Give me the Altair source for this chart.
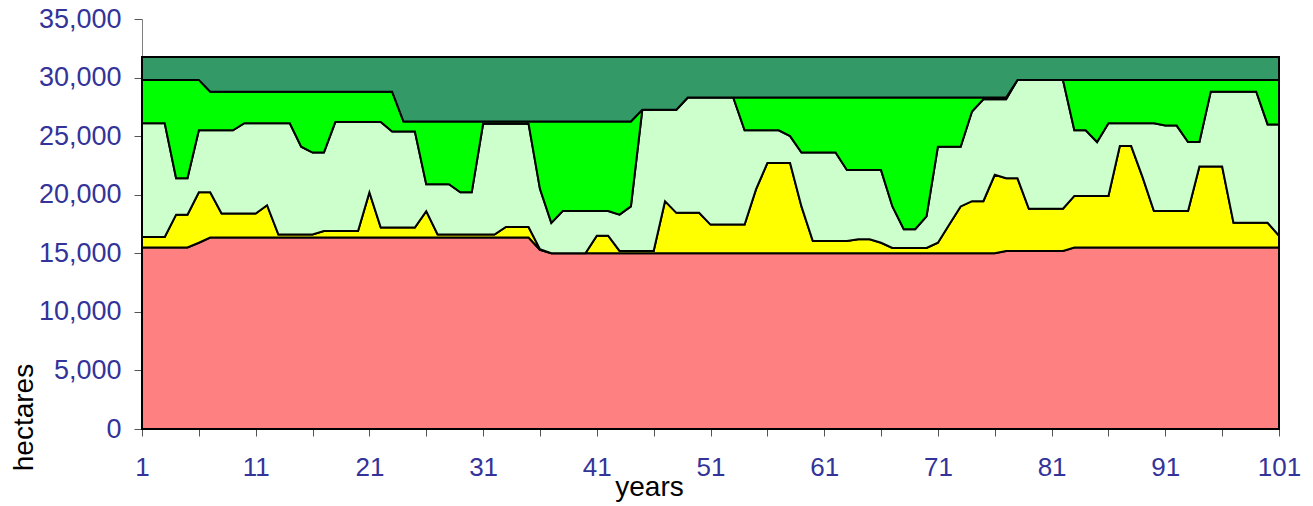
import altair as alt
import pandas as pd

years = list(range(1, 102))

series_names = ["red", "yellow", "light green", "bright green", "dark green"]
series_colors = ["#FF8080", "#FFFF00", "#CCFFCC", "#00FF00", "#339966"]

red = [
    15500, 15500, 15500, 15500, 15500, 15900, 16350, 16350, 16350, 16350,
    16350, 16350, 16350, 16350, 16350, 16350, 16350, 16350, 16350, 16350,
    16350, 16350, 16350, 16350, 16350, 16350, 16350, 16350, 16350, 16350,
    16350, 16350, 16350, 16350, 16350, 15300, 15000, 15000, 15000, 15000,
    15000, 15000, 15000, 15000, 15000, 15000, 15000, 15000, 15000, 15000,
    15000, 15000, 15000, 15000, 15000, 15000, 15000, 15000, 15000, 15000,
    15000, 15000, 15000, 15000, 15000, 15000, 15000, 15000, 15000, 15000,
    15000, 15000, 15000, 15000, 15000, 15000, 15200, 15200, 15200, 15200,
    15200, 15200, 15500, 15500, 15500, 15500, 15500, 15500, 15500, 15500,
    15500, 15500, 15500, 15500, 15500, 15500, 15500, 15500, 15500, 15500,
    15500,
]
yellow = [
    900, 900, 900, 2800, 2800, 4300, 3850, 2050, 2050, 2050,
    2050, 2750, 250, 250, 250, 250, 550, 550, 550, 550,
    3850, 850, 850, 850, 850, 2250, 250, 250, 250, 250,
    250, 250, 900, 900, 900, 50, 0, 0, 0, 0,
    1500, 1500, 200, 200, 200, 200, 4450, 3450, 3450, 3450,
    2450, 2450, 2450, 2450, 5450, 7700, 7700, 7700, 4000, 1050,
    1050, 1050, 1050, 1200, 1200, 900, 450, 450, 450, 450,
    900, 2450, 4000, 4450, 4450, 6700, 6200, 6200, 3600, 3600,
    3600, 3600, 4400, 4400, 4400, 4400, 8650, 8650, 6000, 3100,
    3100, 3100, 3100, 6900, 6900, 6900, 2100, 2100, 2100, 2100,
    1000,
]
light_green = [
    9700, 9700, 9700, 3100, 3100, 5300, 5300, 7100, 7100, 7700,
    7700, 7000, 9500, 9500, 7500, 7000, 6700, 9300, 9300, 9300,
    6000, 9000, 8200, 8200, 8200, 2300, 4300, 4300, 3600, 3600,
    9450, 9450, 8800, 8800, 8800, 5150, 2600, 3600, 3600, 3600,
    2100, 2100, 3100, 3800, 12050, 12050, 7800, 8800, 9850, 9850,
    10850, 10850, 10850, 8050, 5050, 2800, 2800, 2300, 4600, 7550,
    7550, 7550, 6050, 5900, 5900, 6200, 3550, 1600, 1600, 2700,
    8200, 6650, 5100, 7650, 8700, 6450, 6750, 8400, 11000, 11000,
    11000, 11000, 5600, 5600, 4600, 6200, 1950, 1950, 4600, 7500,
    7300, 7300, 5900, 2100, 6400, 6400, 11200, 11200, 11200, 8400,
    9500,
]
bright_green = [
    3700, 3700, 3700, 8400, 8400, 4300, 3300, 3300, 3300, 2700,
    2700, 2700, 2700, 2700, 4700, 5200, 5200, 2600, 2600, 2600,
    2600, 2600, 3400, 850, 850, 5350, 5350, 5350, 6050, 6050,
    200, 200, 200, 200, 200, 5750, 8650, 7650, 7650, 7650,
    7650, 7650, 7950, 7250, 0, 0, 0, 0, 0, 0,
    0, 0, 0, 2800, 2800, 2800, 2800, 3300, 4700, 4700,
    4700, 4700, 6200, 6200, 6200, 6200, 9300, 11250, 11250, 10150,
    4200, 4200, 4200, 1200, 150, 150, 150, 0, 0, 0,
    0, 0, 4300, 4300, 5300, 3700, 3700, 3700, 3700, 3700,
    3900, 3900, 5300, 5300, 1000, 1000, 1000, 1000, 1000, 3800,
    3800,
]
dark_green = [
    1950, 1950, 1950, 1950, 1950, 1950, 2950, 2950, 2950, 2950,
    2950, 2950, 2950, 2950, 2950, 2950, 2950, 2950, 2950, 2950,
    2950, 2950, 2950, 5500, 5500, 5500, 5500, 5500, 5500, 5500,
    5500, 5500, 5500, 5500, 5500, 5500, 5500, 5500, 5500, 5500,
    5500, 5500, 5500, 5500, 4500, 4500, 4500, 4500, 3450, 3450,
    3450, 3450, 3450, 3450, 3450, 3450, 3450, 3450, 3450, 3450,
    3450, 3450, 3450, 3450, 3450, 3450, 3450, 3450, 3450, 3450,
    3450, 3450, 3450, 3450, 3450, 3450, 3450, 1950, 1950, 1950,
    1950, 1950, 1950, 1950, 1950, 1950, 1950, 1950, 1950, 1950,
    1950, 1950, 1950, 1950, 1950, 1950, 1950, 1950, 1950, 1950,
    1950,
]

x_ticks = list(range(1, 102, 5))
y_ticks = list(range(0, 35001, 5000))

all_series = [red, yellow, light_green, bright_green, dark_green]
frames = []
for i, (name, vals) in enumerate(zip(series_names, all_series)):
    frames.append(pd.DataFrame({"year": years, "value": vals, "series": name, "order": i}))
df = pd.concat(frames, ignore_index=True)

FONT = "Liberation Sans"
LABEL_COLOR = "#333399"

chart = alt.Chart(df).mark_area(
    stroke="black", strokeWidth=2, interpolate="linear", opacity=1
).encode(
    x=alt.X(
        "year:Q",
        scale=alt.Scale(domain=[1, 101], nice=False, zero=False),
        axis=alt.Axis(
            values=x_ticks,
            labelExpr="datum.value % 10 == 1 ? datum.label : ''",
            labelFlush=False,
            labelOverlap=False,
            grid=False,
            tickSize=7,
            tickColor="#555555",
            domainColor="#808080",
            labelColor=LABEL_COLOR,
            labelFont=FONT,
            labelFontSize=26,
            labelPadding=18,
            title="years",
            titleFont=FONT,
            titleFontSize=28,
            titleFontWeight="normal",
            titleColor="black",
            titleX=507,
            titleY=66,
            titleAlign="center",
            titleBaseline="alphabetic",
        ),
    ),
    y=alt.Y(
        "value:Q",
        stack="zero",
        scale=alt.Scale(domain=[0, 35000], nice=False),
        axis=alt.Axis(
            values=y_ticks,
            format=",.0f",
            grid=False,
            tickSize=8,
            tickColor="#555555",
            domainColor="#808080",
            labelColor=LABEL_COLOR,
            labelFont=FONT,
            labelFontSize=27,
            labelPadding=13,
            title="hectares",
            titleFont=FONT,
            titleFontSize=28,
            titleFontWeight="normal",
            titleColor="black",
            titleAngle=270,
            titleX=-110,
            titleY=398,
            titleAlign="center",
            titleBaseline="alphabetic",
        ),
    ),
    color=alt.Color(
        "series:N",
        scale=alt.Scale(domain=series_names, range=series_colors),
        legend=None,
    ),
    order=alt.Order("order:Q"),
).properties(
    width=1137,
    height=410,
    autosize=alt.AutoSizeParams(type="none"),
    padding={"left": 134, "top": 11, "right": 26, "bottom": 78},
).configure_view(stroke=None)

chart.save("out.html", embed_options={"renderer": "svg", "actions": False})
